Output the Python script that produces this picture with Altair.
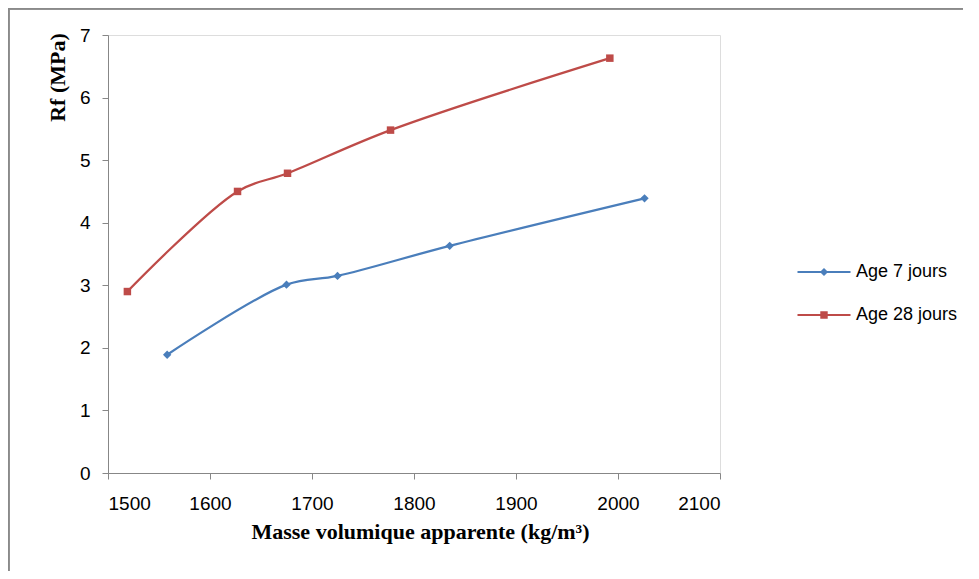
import altair as alt
import pandas as pd

# ---- data ----
series_names = ["Age 7 jours", "Age 28 jours"]
x_7 = [1558, 1675, 1725, 1835, 2026]
y_7 = [1.89, 3.01, 3.15, 3.63, 4.39]
x_28 = [1519, 1627, 1676, 1777, 1992]
y_28 = [2.90, 4.50, 4.79, 5.48, 6.63]
x_ticks = [1500, 1600, 1700, 1800, 1900, 2000, 2100]
y_ticks = [0, 1, 2, 3, 4, 5, 6, 7]

colors = ["#4A7EBB", "#BE4B48"]

df = pd.DataFrame({
    "mv": x_7 + x_28,
    "rf": y_7 + y_28,
    "series": [series_names[0]] * len(x_7) + [series_names[1]] * len(x_28),
})

LABEL_FONT = "Liberation Sans"
TITLE_FONT = "Liberation Serif"
AXIS_GREY = "#878787"

x_enc = alt.X(
    "mv:Q",
    scale=alt.Scale(domain=[1500, 2100], nice=False, zero=False),
    axis=alt.Axis(
        values=x_ticks, format="d", grid=False, title="Masse volumique apparente (kg/m³)",
        domainColor=AXIS_GREY, tickColor=AXIS_GREY, tickSize=6,
        labelFont=LABEL_FONT, labelFontSize=19, labelColor="#000000", labelPadding=15,
        titleFont=TITLE_FONT, titleFontSize=22, titleFontWeight="bold", titleColor="#000000",
        titleBaseline="alphabetic", titleY=65, titleX=312, titleAnchor="middle",
    ),
)
y_enc = alt.Y(
    "rf:Q",
    scale=alt.Scale(domain=[0, 7], nice=False, zero=True),
    axis=alt.Axis(
        values=y_ticks, format="d", grid=False, title="Rf (MPa)",
        domainColor=AXIS_GREY, tickColor=AXIS_GREY, tickSize=6,
        labelFont=LABEL_FONT, labelFontSize=19, labelColor="#000000", labelPadding=12,
        titleFont=TITLE_FONT, titleFontSize=22, titleFontWeight="bold", titleColor="#000000",
        titleAngle=270, titleAlign="center", titleBaseline="alphabetic",
        titleX=-44, titleY=42,
    ),
)

diamond = "M0,-1L1,0L0,1L-1,0Z"
square = "M-1,-1H1V1H-1Z"
leg_blue = "M-1.893,-0.08H1.893V0.08H-1.893Z M0,-0.29L0.29,0L0,0.29L-0.29,0Z"
leg_red = "M-1.893,-0.08H1.893V0.08H-1.893Z M-0.265,-0.265H0.265V0.265H-0.265Z"

legend_props = dict(
    title=None, orient="none", legendX=702, legendY=223,
    labelFont=LABEL_FONT, labelFontSize=18, labelColor="#000000",
    labelOffset=18, rowPadding=20, padding=0, symbolStrokeWidth=0,
    symbolSize=784,
)

base = alt.Chart(df)
layers = []
shapes = [diamond, square]
sizes = [70, 56]
for name, col, shp, sz in zip(series_names, colors, shapes, sizes):
    sub = base.transform_filter(alt.datum.series == name)
    layers.append(
        sub.mark_line(strokeWidth=2.25, interpolate="catmull-rom", color=col).encode(x=x_enc, y=y_enc)
    )
    layers.append(
        sub.mark_point(filled=True, opacity=1, shape=shp, size=sz, color=col).encode(x=x_enc, y=y_enc)
    )

legend_layer = base.transform_filter("false").mark_point(filled=True, opacity=1, size=784).encode(
    x=x_enc, y=y_enc,
    color=alt.Color("series:N", scale=alt.Scale(domain=series_names, range=colors),
                    legend=alt.Legend(**legend_props)),
    shape=alt.Shape("series:N", scale=alt.Scale(domain=series_names, range=[leg_blue, leg_red]),
                    legend=alt.Legend(**legend_props)),
)

frame_left = alt.Chart(df).mark_rule(color="#8A8A8A", strokeWidth=1.5).encode(
    x=alt.value(-99.5), y=alt.value(-26.5), y2=alt.value(536)
)
frame_top = alt.Chart(df).mark_rule(color="#8A8A8A", strokeWidth=1.5).encode(
    x=alt.value(-99.5), x2=alt.value(855), y=alt.value(-26.5)
)

chart = alt.layer(frame_left, frame_top, *layers, legend_layer).properties(
    width=612, height=438,
    autosize=alt.AutoSizeParams(type="none"),
    padding={"left": 100, "top": 27, "right": 251, "bottom": 98},
).configure_view(stroke=None).configure(background="#ffffff")

chart.save("out.html", embed_options={"renderer": "svg", "actions": False})
